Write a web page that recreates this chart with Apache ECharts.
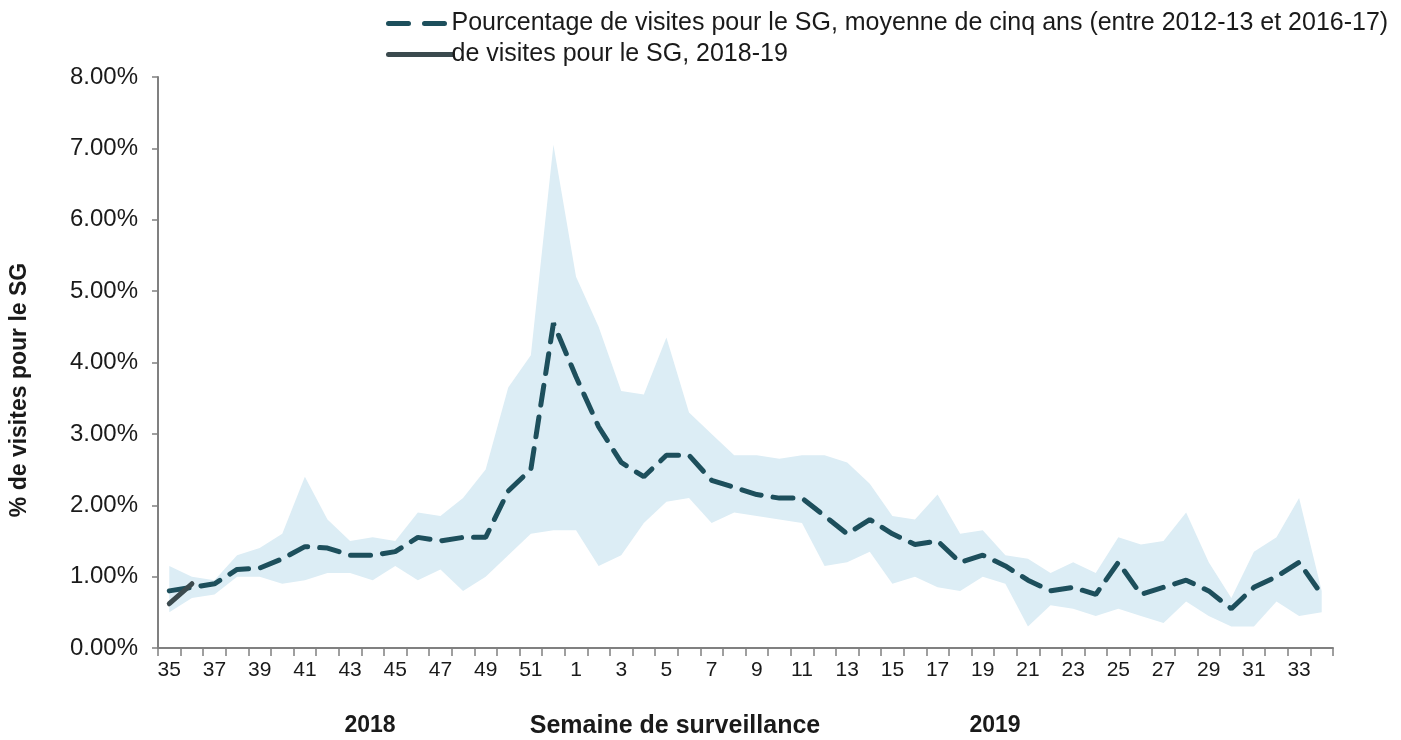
<!DOCTYPE html>
<html>
<head>
<meta charset="utf-8">
<script src="https://cdn.jsdelivr.net/npm/echarts@6/dist/echarts.min.js"></script>
<style>
html,body{margin:0;padding:0;background:#fff;}
#chart{width:1401px;height:740px;}
</style>
</head>
<body>
<div id="chart"></div>
<script>
// Surveillance weeks (2018 wk 35 .. 2019 wk 34)
const weeks = ['35','36','37','38','39','40','41','42','43','44','45','46','47','48','49','50','51','52',
  '1','2','3','4','5','6','7','8','9','10','11','12','13','14','15','16','17','18','19','20','21','22','23','24','25','26','27','28','29','30','31','32','33','34'];

// Five-year average (%)
const meanPct = [0.80,0.85,0.90,1.10,1.12,1.25,1.42,1.40,1.30,1.30,1.35,1.55,1.50,1.55,1.55,2.20,2.50,4.55,
  3.80,3.10,2.60,2.40,2.70,2.70,2.35,2.25,2.15,2.10,2.10,1.85,1.60,1.80,1.60,1.45,1.50,1.20,1.30,1.15,0.95,0.80,0.85,0.75,1.20,0.75,0.85,0.95,0.80,0.55,0.85,1.00,1.20,0.75];

// Range of previous seasons: max and min (%)
const maxPct = [1.15,1.00,0.95,1.30,1.40,1.60,2.40,1.80,1.50,1.55,1.50,1.90,1.85,2.10,2.50,3.65,4.10,7.05,
  5.20,4.50,3.60,3.55,4.35,3.30,3.00,2.70,2.70,2.65,2.70,2.70,2.60,2.30,1.85,1.80,2.15,1.60,1.65,1.30,1.25,1.05,1.20,1.05,1.55,1.45,1.50,1.90,1.20,0.70,1.35,1.55,2.10,0.80];
const minPct = [0.50,0.70,0.75,1.00,1.00,0.90,0.95,1.05,1.05,0.95,1.15,0.95,1.10,0.80,1.00,1.30,1.60,1.65,
  1.65,1.15,1.30,1.75,2.05,2.10,1.75,1.90,1.85,1.80,1.75,1.15,1.20,1.35,0.90,1.00,0.85,0.80,1.00,0.90,0.30,0.60,0.55,0.45,0.55,0.45,0.35,0.65,0.45,0.30,0.30,0.65,0.45,0.50];

// Current season 2018-19 (%)
const currentPct = [0.62,0.90];

const nameMean = 'Pourcentage de visites pour le SG, moyenne de cinq ans (entre 2012-13 et 2016-17)';
const nameCur = 'de visites pour le SG, 2018-19';
const yTitle = '% de visites pour le SG';
const xTitle = 'Semaine de surveillance';
const yearLabels = ['2018','2019'];

const rangeDiff = maxPct.map((v,i)=> +(v - minPct[i]).toFixed(3));
const curFull = weeks.map((w,i)=> i < currentPct.length ? currentPct[i] : null);

const chart = echarts.init(document.getElementById('chart'), null, {renderer:'canvas'});
const FONT = "'Liberation Sans', Arial, sans-serif";
const MEAN_COLOR = '#1d4f5c';
const CUR_COLOR = '#3b4a4e';
chart.setOption({
  animation:false,
  backgroundColor:'#ffffff',
  grid:{left:158, right:68, top:77, bottom:92, containLabel:false},
  legend:{
    orient:'vertical', left:381, top:6, itemWidth:64, itemHeight:8, itemGap:6,
    itemStyle:{opacity:0},
    data:[
      {name:nameMean, lineStyle:{color:MEAN_COLOR, width:5, type:[20,16], cap:'round'}},
      {name:nameCur, lineStyle:{color:CUR_COLOR, width:5, type:'solid'}}
    ],
    textStyle:{fontFamily:FONT, fontSize:25, color:'#1a1a1a', padding:[0,0,0,-6]}
  },
  xAxis:{
    type:'category', data:weeks, boundaryGap:true,
    axisLine:{lineStyle:{color:'#808080', width:2}},
    axisTick:{show:true, interval:0, length:8, lineStyle:{color:'#808080', width:1.5}},
    axisLabel:{interval:1, fontFamily:FONT, fontSize:21, color:'#1a1a1a', margin:12}
  },
  yAxis:{
    type:'value', min:0, max:8, interval:1,
    axisLine:{show:true, lineStyle:{color:'#808080', width:2}},
    axisTick:{show:true, length:6, lineStyle:{color:'#808080', width:1.5}},
    splitLine:{show:false},
    axisLabel:{fontFamily:FONT, fontSize:24, color:'#1a1a1a', margin:20, formatter:v=>v.toFixed(2)+'%'}
  },
  graphic:[
    {type:'text', x:20, y:390, rotation:Math.PI/2, style:{text:yTitle, font:"bold 23px 'Liberation Sans', Arial, sans-serif", fill:'#1a1a1a', align:'center', verticalAlign:'middle'}},
    {type:'text', x:370, y:726, style:{text:yearLabels[0], font:"bold 23px 'Liberation Sans', Arial, sans-serif", fill:'#1a1a1a', align:'center', verticalAlign:'middle'}},
    {type:'text', x:675, y:726, style:{text:xTitle, font:"bold 25px 'Liberation Sans', Arial, sans-serif", fill:'#1a1a1a', align:'center', verticalAlign:'middle'}},
    {type:'text', x:995, y:726, style:{text:yearLabels[1], font:"bold 23px 'Liberation Sans', Arial, sans-serif", fill:'#1a1a1a', align:'center', verticalAlign:'middle'}}
  ],
  series:[
    {name:'minRange', type:'line', data:minPct, stack:'band', symbol:'none', lineStyle:{opacity:0}, areaStyle:{opacity:0}, silent:true, z:1},
    {name:'range', type:'line', data:rangeDiff, stack:'band', symbol:'none', lineStyle:{opacity:0}, areaStyle:{color:'#dcedf5', opacity:1}, silent:true, z:1},
    {name:nameMean, type:'line', data:meanPct, symbol:'none', z:3,
      lineStyle:{color:MEAN_COLOR, width:5, type:[20,12], cap:'round'}},
    {name:nameCur, type:'line', data:curFull, symbol:'none', z:4, connectNulls:false,
      lineStyle:{color:CUR_COLOR, width:5, type:'solid', cap:'round'}}
  ]
});
</script>
</body>
</html>
